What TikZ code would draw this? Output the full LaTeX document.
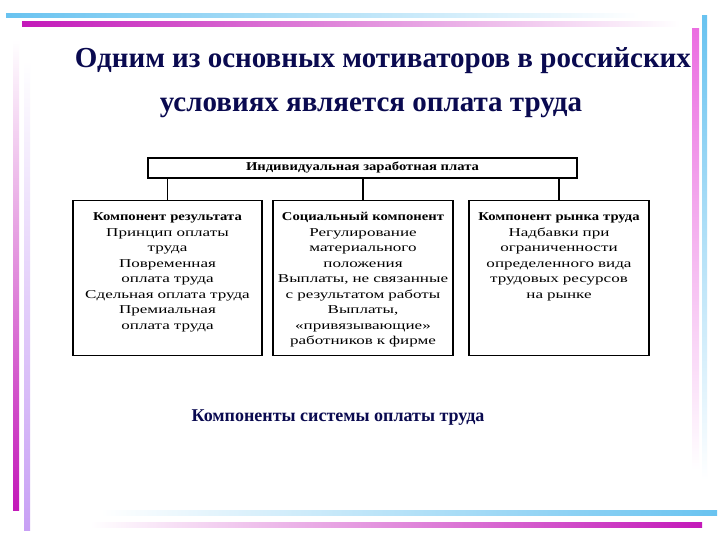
\documentclass[tikz,border=0pt]{standalone}
\usepackage{fontspec}
\setmainfont{Liberation Serif}
\newfontfamily\scanfont[FakeStretch=1.42]{Liberation Serif}
\newfontfamily\headfont[FakeStretch=1.22]{Liberation Serif}
\usepackage{tikz}
\usetikzlibrary{positioning,calc}
\definecolor{TitleNavy}{RGB}{10,10,80}
\definecolor{BarBlue}{RGB}{105,195,240}
\definecolor{BarMagenta}{RGB}{195,25,185}
\definecolor{BarPink}{RGB}{235,110,225}
\definecolor{BarLilac}{RGB}{200,160,245}
\newcommand{\boxhead}[1]{{\headfont\bfseries #1}}

\begin{document}
\begin{tikzpicture}[x=1pt,y=-1pt,
  title/.style={font=\fontsize{29}{31}\selectfont\bfseries,text=TitleNavy,inner sep=0pt,anchor=base},
  paybox/.style={draw,line width=1.3pt,minimum width=429pt,minimum height=20pt,inner sep=0pt,
                 font=\headfont\fontsize{12}{13}\selectfont\bfseries},
  compbox/.style={draw,line width=1.3pt,anchor=north,align=center,inner xsep=2pt,inner ysep=5pt,
                  text height=15pt,text depth=130pt,font=\scanfont\fontsize{12}{15.5}\selectfont},
  link/.style={line width=1.3pt},
]
\useasboundingbox (0,0) rectangle (720,540);
\fill[white] (0,0) rectangle (720,540);
\shade[left color=BarBlue,middle color=BarBlue!70,right color=white] (6,14) rectangle (640,18);
\shade[left color=BarMagenta,middle color=BarPink!70,right color=white] (22,22) rectangle (680,27);
\shade[top color=BarBlue,bottom color=white] (702,16) rectangle (707,480);
\shade[top color=BarPink,bottom color=white] (692,29) rectangle (699,470);
\shade[bottom color=BarMagenta,top color=white] (13,40) rectangle (19,510);
\shade[bottom color=BarLilac,top color=white] (24,60) rectangle (30,530);
\shade[right color=BarBlue,middle color=BarBlue!70,left color=white] (100,510) rectangle (717,515);
\shade[right color=BarMagenta,middle color=BarPink!70,left color=white] (90,522) rectangle (702,527);

\node[title] (title1) at (383,68) {Одним из основных мотиваторов в российских};
\node[title] (title2) at (371,112) {условиях является оплата труда};

\node[paybox] (pay) at (362.5,168) {Индивидуальная заработная плата};
\node[compbox,text width=185pt] (result) at (167.5,200) {\boxhead{Компонент результата}\\Принцип оплаты\\труда\\Повременная\\оплата труда\\Сдельная оплата труда\\Премиальная\\оплата труда};
\node[compbox,text width=176pt] (social) at (363,200) {\boxhead{Социальный компонент}\\Регулирование\\материального\\положения\\Выплаты,\ не связанные\\с результатом работы\\Выплаты,\\«привязывающие»\\работников к фирме};
\node[compbox,text width=176pt] (market) at (559,200) {\boxhead{Компонент рынка труда}\\Надбавки при\\ограниченности\\определенного вида\\трудовых ресурсов\\на рынке};
\draw[link] (result.north) -- (result.north |- pay.south);
\draw[link] (social.north) -- (social.north |- pay.south);
\draw[link] (market.north) -- (market.north |- pay.south);

\node[font=\fontsize{18}{20}\selectfont\bfseries,text=TitleNavy] (caption) at (338,418) {Компоненты системы оплаты труда};
\end{tikzpicture}
\end{document}
